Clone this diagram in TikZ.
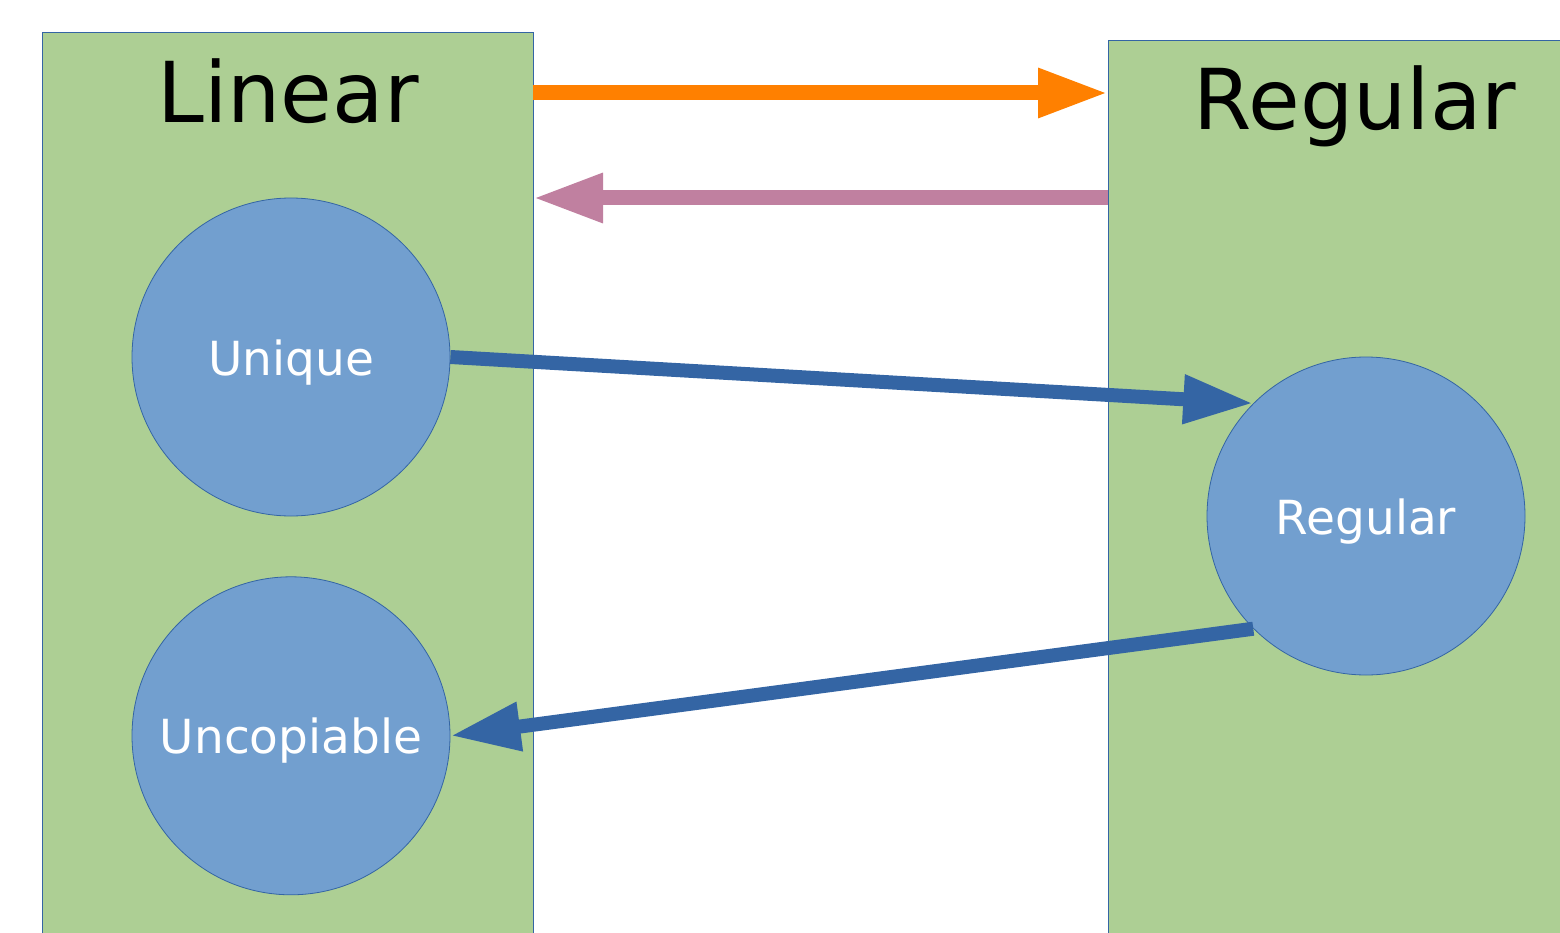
\documentclass[tikz,border=0pt]{standalone}
\usepackage{fontspec}
\setmainfont{DejaVu Sans}
\usetikzlibrary{positioning,arrows.meta}
\definecolor{boxgreen}{HTML}{ADCF94}
\definecolor{circblue}{HTML}{729FCF}
\definecolor{edgeblue}{HTML}{3465A4}
\definecolor{arrorange}{HTML}{FF8000}
\definecolor{arrpink}{HTML}{C080A0}
\tikzset{fat/.style={line width=15pt,-{Triangle[length=70pt,width=46pt]}}}
\newcommand{\circtext}[1]{\raisebox{-18pt}[0pt][0pt]{#1}}

\begin{document}
\begin{tikzpicture}[x=1pt,y=-1pt,
kindbox/.style={rectangle, draw=edgeblue, fill=boxgreen, line width=0.8pt, anchor=north west, inner sep=0pt},
kindnode/.style={circle, draw=edgeblue, fill=circblue, line width=0.8pt, minimum size=318pt, inner sep=0pt, text=white, font=\fontsize{47}{56}\selectfont},
title/.style={font=\fontsize{84}{96}\selectfont, anchor=base},
]
\useasboundingbox (0,0) rectangle (1560,933);
\clip (0,0) rectangle (1560,933);
%Boxes
\node[kindbox, minimum width=491pt, minimum height=960pt] (linbox) at (42,32) {};
\node[kindbox, minimum width=520pt, minimum height=960pt] (regbox) at (1108,40) {};
\node[title] (lintitle) at (288,123) {Linear};
\node[title] (regtitle) at (1355,130) {Regular};
%Circles
\node[kindnode] (unique) at (291,357) {\circtext{Unique}};
\node[kindnode] (uncop) [below=60pt of unique] {\circtext{Uncopiable}};
\node[kindnode] (regular) at (1366,516) {\circtext{Regular}};
%Points on the box edges
\coordinate (linout) at (533,93);
\coordinate (regin) at (1108,93);
\coordinate (regout) at (1108,198);
\coordinate (linin) at (533,198);

%Arrows
\draw[fat, arrorange] (linout) -- (regin);
\draw[fat, arrpink] (regout) -- (linin);
\draw[fat, edgeblue, line width=14pt] (unique.east) -- (regular.135);
\draw[fat, edgeblue, line width=14pt] (regular.225) -- (uncop.east);
\end{tikzpicture}
\end{document}
